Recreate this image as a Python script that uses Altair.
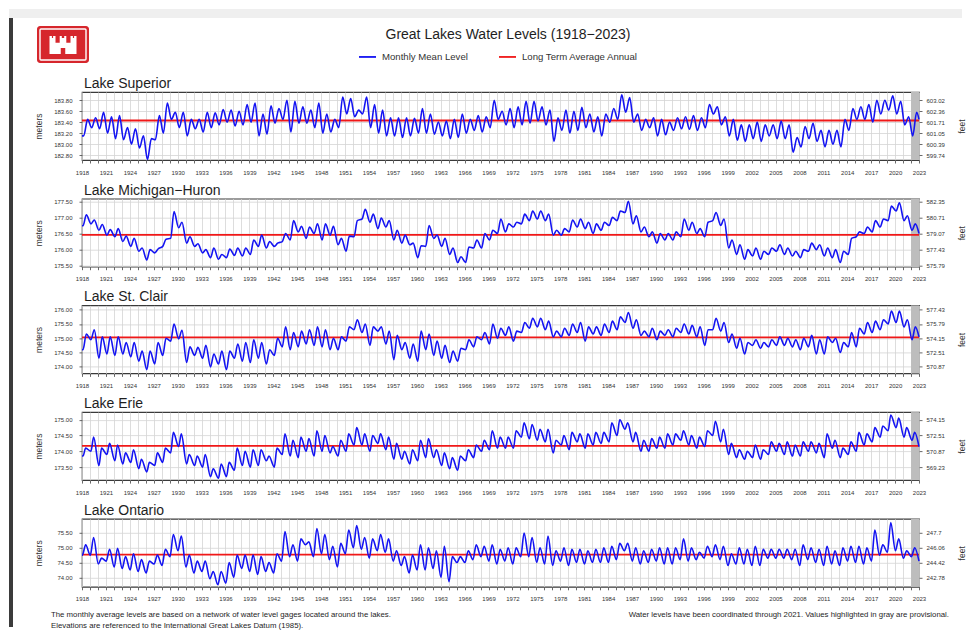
import altair as alt
import pandas as pd

FONT = "Liberation Sans"
TITLE = "Great Lakes Water Levels (1918\u22122023)"
LEGEND_LABELS = ["Monthly Mean Level", "Long Term Average Annual"]
LEGEND_COLORS = ["#1414f2", "#f01818"]
FOOTER_LEFT = [
    "The monthly average levels are based on a network of water level gages located around the lakes.",
    "Elevations are referenced to the International Great Lakes Datum (1985).",
]
FOOTER_RIGHT = "Water levels have been coordinated through 2021. Values highlighted in gray are provisional."

X_START, X_END = 1918, 2023
YEARS = list(range(1918, 2023))          # years with a winter low and a summer high
AXIS_YEARS = list(range(1918, 2024))     # yearly ticks / grid
PROVISIONAL = [2022, 2023]               # gray band
M_TO_FT = 3.28084

# ---------------- Lake Superior (meters) ----------------
SUP_LOW = [183.15, 183.30, 183.28, 183.20, 183.10, 183.08, 183.00, 182.93, 182.72, 183.08,
           183.20, 183.45, 183.30, 183.15, 183.28, 183.22, 183.30, 183.35, 183.40, 183.33,
           183.35, 183.40, 183.15, 183.18, 183.38, 183.45, 183.22, 183.38, 183.38, 183.30,
           183.20, 183.22, 183.30, 183.55, 183.50, 183.55, 183.30, 183.20, 183.15, 183.15,
           183.12, 183.15, 183.20, 183.20, 183.18, 183.15, 183.10, 183.12, 183.20, 183.25,
           183.22, 183.30, 183.45, 183.35, 183.30, 183.35, 183.38, 183.42, 183.35, 183.05,
           183.25, 183.20, 183.25, 183.30, 183.22, 183.15, 183.40, 183.45, 183.58, 183.40,
           183.25, 183.30, 183.15, 183.17, 183.25, 183.28, 183.27, 183.25, 183.30, 183.55,
           183.35, 183.15, 183.07, 183.05, 183.10, 183.05, 183.15, 183.10, 183.10, 182.85,
           182.95, 183.10, 183.05, 182.95, 183.00, 182.95, 183.25, 183.45, 183.45, 183.40,
           183.55, 183.62, 183.55, 183.35, 183.15]
SUP_HIGH = [183.45, 183.48, 183.58, 183.50, 183.52, 183.30, 183.28, 183.15, 183.10, 183.52,
            183.75, 183.58, 183.58, 183.45, 183.45, 183.58, 183.57, 183.63, 183.62, 183.60,
            183.72, 183.75, 183.55, 183.70, 183.65, 183.80, 183.78, 183.68, 183.62, 183.75,
            183.55, 183.45, 183.86, 183.83, 183.62, 183.86, 183.72, 183.62, 183.48, 183.48,
            183.48, 183.47, 183.65, 183.55, 183.40, 183.42, 183.45, 183.55, 183.45, 183.52,
            183.50, 183.80, 183.60, 183.65, 183.68, 183.78, 183.78, 183.68, 183.62, 183.48,
            183.62, 183.60, 183.67, 183.55, 183.50, 183.55, 183.65, 183.90, 183.85, 183.55,
            183.45, 183.48, 183.45, 183.40, 183.48, 183.50, 183.52, 183.48, 183.72, 183.68,
            183.50, 183.45, 183.35, 183.35, 183.40, 183.35, 183.35, 183.42, 183.35, 183.12,
            183.32, 183.38, 183.25, 183.25, 183.25, 183.45, 183.65, 183.68, 183.72, 183.80,
            183.80, 183.88, 183.78, 183.50, 183.58]
SUP_START, SUP_END = 183.15, 183.45

# ---------------- Lake Michigan-Huron ----------------
MH_LOW = [176.74, 176.80, 176.60, 176.45, 176.40, 176.25, 176.10, 175.95, 175.68, 175.90,
          176.10, 176.35, 176.68, 176.20, 176.10, 175.90, 175.75, 175.70, 175.75, 175.82,
          175.80, 175.85, 176.10, 176.05, 176.10, 176.25, 176.30, 176.55, 176.35, 176.50,
          176.30, 176.45, 176.15, 175.95, 176.40, 176.95, 176.85, 176.65, 176.70, 176.30,
          176.20, 176.15, 175.75, 176.10, 176.35, 176.10, 175.85, 175.60, 175.60, 176.05,
          176.05, 176.30, 176.50, 176.55, 176.70, 176.80, 176.90, 176.95, 176.90, 176.45,
          176.45, 176.55, 176.70, 176.65, 176.50, 176.60, 176.75, 176.90, 177.15, 176.80,
          176.55, 176.40, 176.20, 176.30, 176.30, 176.40, 176.60, 176.50, 176.40, 176.90,
          176.75, 176.05, 175.85, 175.70, 175.80, 175.70, 175.85, 175.95, 175.85, 175.80,
          175.75, 175.95, 176.00, 175.80, 175.75, 175.60, 175.85, 176.40, 176.50, 176.55,
          176.70, 176.90, 177.20, 176.90, 176.60]
MH_HIGH = [177.08, 176.92, 176.78, 176.62, 176.65, 176.42, 176.35, 176.05, 176.00, 176.02,
           176.32, 177.18, 176.85, 176.40, 176.18, 176.00, 176.05, 175.85, 176.02, 176.05,
           176.05, 176.30, 176.45, 176.25, 176.20, 176.50, 176.90, 176.72, 176.70, 176.80,
           176.80, 176.72, 176.35, 176.42, 176.90, 177.25, 177.10, 176.98, 176.90, 176.60,
           176.45, 176.20, 176.12, 176.75, 176.45, 176.35, 176.05, 175.78, 176.08, 176.30,
           176.50, 176.60, 176.95, 176.80, 176.85, 177.10, 177.20, 177.20, 177.10, 176.60,
           176.65, 176.92, 176.95, 176.85, 176.80, 176.85, 177.00, 177.20, 177.50, 177.05,
           176.70, 176.55, 176.50, 176.50, 176.55, 176.95, 176.85, 176.65, 176.85, 177.15,
           176.95, 176.30, 176.15, 176.00, 176.05, 175.95, 176.05, 176.15, 176.05, 175.95,
           176.00, 176.20, 176.15, 176.05, 176.00, 175.95, 176.35, 176.55, 176.70, 176.90,
           176.95, 177.35, 177.45, 177.05, 176.80]
MH_START, MH_END = 176.74, 176.50

# ---------------- Lake St. Clair ----------------
SC_LOW = [174.60, 174.95, 174.30, 174.45, 174.40, 174.45, 174.35, 174.20, 173.90, 174.10,
          174.40, 174.90, 174.98, 174.15, 174.40, 174.30, 174.00, 174.10, 173.90, 174.30,
          174.20, 174.15, 174.30, 174.10, 174.40, 174.70, 174.60, 174.70, 174.80, 174.75,
          174.70, 174.60, 174.60, 174.90, 175.30, 175.20, 174.75, 175.25, 174.80, 174.25,
          174.60, 174.30, 174.20, 174.60, 174.40, 174.30, 174.15, 174.20, 174.60, 174.70,
          174.95, 174.80, 175.00, 175.10, 174.90, 175.20, 175.35, 175.40, 175.30, 175.05,
          175.05, 175.10, 175.20, 174.90, 175.15, 175.10, 175.20, 175.30, 175.55, 175.35,
          175.10, 175.05, 174.95, 175.10, 175.05, 175.20, 175.15, 175.05, 174.75, 175.30,
          175.25, 174.85, 174.65, 174.45, 174.75, 174.65, 174.70, 174.75, 174.75, 174.70,
          174.60, 174.70, 174.45, 174.45, 174.85, 174.50, 174.70, 174.70, 175.15, 175.20,
          175.30, 175.50, 175.55, 175.40, 174.95]
SC_HIGH = [175.15, 175.30, 175.05, 175.05, 175.05, 174.85, 174.85, 174.55, 174.55, 174.85,
           175.00, 175.50, 175.28, 174.70, 174.68, 174.75, 174.45, 174.55, 174.55, 174.80,
           174.85, 174.95, 174.85, 174.60, 175.00, 175.40, 175.20, 175.25, 175.30, 175.40,
           175.30, 175.00, 175.05, 175.40, 175.65, 175.50, 175.40, 175.40, 175.25, 175.10,
           174.85, 174.80, 175.25, 175.15, 174.90, 174.75, 174.55, 174.65, 174.95, 175.05,
           175.20, 175.50, 175.35, 175.40, 175.25, 175.55, 175.70, 175.70, 175.60, 175.25,
           175.35, 175.50, 175.55, 175.40, 175.40, 175.50, 175.60, 175.75, 175.90, 175.65,
           175.25, 175.35, 175.25, 175.30, 175.35, 175.50, 175.45, 175.40, 175.30, 175.70,
           175.55, 175.15, 175.00, 174.85, 174.95, 174.85, 174.95, 175.05, 175.00, 174.95,
           175.00, 175.10, 174.95, 175.05, 175.00, 174.85, 175.20, 175.35, 175.55, 175.60,
           175.65, 175.95, 175.95, 175.65, 175.40]
SC_START, SC_END = 174.60, 175.05

# ---------------- Lake Erie ----------------
ER_LOW = [173.85, 174.00, 173.55, 173.90, 173.70, 173.60, 173.65, 173.45, 173.35, 173.55,
          173.65, 173.95, 174.15, 173.60, 173.55, 173.50, 173.20, 173.15, 173.20, 173.40,
          173.55, 173.50, 173.55, 173.70, 173.50, 173.90, 173.85, 173.80, 174.00, 173.85,
          174.00, 173.95, 173.85, 174.00, 174.20, 174.20, 174.00, 174.25, 174.05, 173.75,
          173.75, 173.60, 173.70, 173.80, 173.80, 173.55, 173.45, 173.40, 173.70, 173.80,
          174.00, 174.05, 174.10, 174.10, 174.10, 174.45, 174.40, 174.35, 174.30, 173.95,
          174.20, 174.05, 174.30, 174.10, 174.20, 174.25, 174.30, 174.50, 174.70, 174.30,
          174.00, 174.00, 174.10, 174.10, 174.20, 174.35, 174.20, 174.10, 174.15, 174.50,
          174.30, 173.90, 173.80, 173.75, 173.80, 173.75, 173.90, 174.00, 173.90, 173.85,
          173.85, 174.00, 173.95, 173.80, 174.10, 173.80, 173.90, 174.00, 174.20, 174.30,
          174.45, 174.65, 174.75, 174.45, 174.35]
ER_HIGH = [174.10, 174.45, 174.10, 174.25, 174.20, 173.95, 174.05, 173.75, 173.65, 173.95,
           174.10, 174.60, 174.55, 173.90, 173.85, 173.90, 173.45, 173.60, 173.65, 174.10,
           174.00, 174.05, 174.05, 173.85, 174.10, 174.55, 174.35, 174.45, 174.40, 174.65,
           174.50, 174.15, 174.35, 174.55, 174.75, 174.55, 174.50, 174.55, 174.45, 174.25,
           174.00, 174.05, 174.35, 174.40, 174.05, 173.95, 173.80, 173.85, 174.05, 174.20,
           174.35, 174.65, 174.45, 174.45, 174.65, 174.90, 174.85, 174.70, 174.70, 174.35,
           174.50, 174.60, 174.55, 174.55, 174.60, 174.60, 174.90, 175.00, 174.90, 174.60,
           174.35, 174.40, 174.45, 174.55, 174.55, 174.65, 174.50, 174.45, 174.65, 174.95,
           174.70, 174.25, 174.05, 174.00, 174.20, 174.05, 174.30, 174.25, 174.30, 174.20,
           174.30, 174.30, 174.25, 174.55, 174.35, 174.10, 174.30, 174.60, 174.55, 174.75,
           174.80, 175.15, 175.05, 174.75, 174.60]
ER_START, ER_END = 173.85, 174.15

# ---------------- Lake Ontario ----------------
ON_LOW = [74.75, 74.75, 74.45, 74.55, 74.35, 74.30, 74.25, 74.20, 74.15, 74.45,
          74.40, 74.70, 74.90, 74.35, 74.15, 74.20, 73.95, 73.75, 73.80, 74.00,
          74.30, 74.20, 74.10, 74.20, 74.15, 74.55, 74.70, 74.55, 75.10, 74.70,
          74.80, 74.60, 74.35, 74.80, 75.00, 74.95, 74.65, 74.90, 74.85, 74.55,
          74.40, 74.15, 74.25, 74.25, 74.30, 74.00, 73.85, 74.50, 74.50, 74.60,
          74.70, 74.55, 74.45, 74.55, 74.45, 74.70, 74.70, 74.50, 74.45, 74.40,
          74.55, 74.40, 74.50, 74.45, 74.50, 74.50, 74.50, 74.60, 74.90, 74.55,
          74.45, 74.50, 74.55, 74.45, 74.45, 74.60, 74.55, 74.60, 74.65, 74.70,
          74.60, 74.40, 74.45, 74.45, 74.40, 74.40, 74.65, 74.65, 74.65, 74.60,
          74.40, 74.60, 74.50, 74.40, 74.45, 74.40, 74.55, 74.50, 74.45, 74.55,
          74.75, 74.85, 74.90, 74.65, 74.70]
ON_HIGH = [75.10, 75.35, 74.65, 74.95, 74.98, 74.70, 74.80, 74.60, 74.55, 74.75,
           74.95, 75.45, 75.40, 74.75, 74.55, 74.55, 74.20, 74.20, 74.50, 74.75,
           74.75, 74.75, 74.70, 74.50, 74.80, 75.55, 75.10, 75.30, 75.20, 75.65,
           75.45, 75.05, 75.15, 75.60, 75.75, 75.35, 75.30, 75.45, 75.30, 74.90,
           74.70, 74.75, 75.10, 75.00, 74.90, 75.05, 74.70, 74.70, 74.90, 75.10,
           75.05, 75.10, 74.95, 75.00, 75.00, 75.50, 75.35, 75.00, 75.40, 74.90,
           75.00, 74.95, 74.95, 74.90, 74.95, 75.00, 75.05, 75.15, 75.15, 75.00,
           74.90, 74.95, 75.00, 75.00, 75.00, 75.30, 75.00, 74.85, 75.05, 75.10,
           75.05, 74.80, 75.00, 74.95, 75.05, 74.95, 74.95, 74.95, 74.95, 74.95,
           75.10, 75.00, 74.95, 75.05, 74.90, 75.00, 75.05, 75.05, 75.00, 75.60,
           75.10, 75.85, 75.30, 74.90, 75.00]
ON_START, ON_END = 74.75, 74.55

LAKES = [
    # name, lows, highs, start, end, low month, high month, long-term avg, y-domain, y ticks (m)
    ("Lake Superior", SUP_LOW, SUP_HIGH, SUP_START, SUP_END, 3, 9, 183.43,
     [182.71, 183.95], [182.8, 183.0, 183.2, 183.4, 183.6, 183.8]),
    ("Lake Michigan\u2212Huron", MH_LOW, MH_HIGH, MH_START, MH_END, 2, 7, 176.46,
     [175.47, 177.58], [175.5, 176.0, 176.5, 177.0, 177.5]),
    ("Lake St. Clair", SC_LOW, SC_HIGH, SC_START, SC_END, 2, 7, 175.03,
     [173.77, 176.15], [174.0, 174.5, 175.0, 175.5, 176.0]),
    ("Lake Erie", ER_LOW, ER_HIGH, ER_START, ER_END, 2, 6, 174.17,
     [173.09, 175.24], [173.5, 174.0, 174.5, 175.0]),
    ("Lake Ontario", ON_LOW, ON_HIGH, ON_START, ON_END, 1, 6, 74.77,
     [73.68, 75.98], [74.0, 74.5, 75.0, 75.5]),
]

for lk in LAKES:
    assert len(lk[1]) == len(YEARS) and len(lk[2]) == len(YEARS), lk[0]

CASTLE = ("M-0.9,0.6 L-0.9,-0.6 L-0.74,-0.6 L-0.74,-0.46 L-0.66,-0.46 L-0.66,-0.6 L-0.5,-0.6 "
          "L-0.5,-0.15 L-0.22,-0.15 L-0.22,-0.6 L-0.08,-0.6 L-0.08,-0.46 L0.08,-0.46 L0.08,-0.6 "
          "L0.22,-0.6 L0.22,-0.15 L0.5,-0.15 L0.5,-0.6 L0.66,-0.6 L0.66,-0.46 L0.74,-0.46 L0.74,-0.6 "
          "L0.9,-0.6 L0.9,0.6 L0.15,0.6 L0.15,0.2 L-0.15,0.2 L-0.15,0.6 Z "
          "M-0.78,-0.25 L-0.62,-0.25 L-0.62,0.0 L-0.78,0.0 Z "
          "M0.62,-0.25 L0.78,-0.25 L0.78,0.0 L0.62,0.0 Z")

W, H, SPACING = 837, 68, 38.7
GRID = "#d4d4d4"
BAND = "#bdbdbd"
ONE = pd.DataFrame({"k": [0]})


def lake_frame(lows, highs, start, end, low_m, high_m):
    t, v = [float(X_START)], [start]
    for y, lo, hi in zip(YEARS, lows, highs):
        t += [y + (low_m - 0.5) / 12, y + (high_m - 0.5) / 12]
        v += [lo, hi]
    t.append(float(X_END))
    v.append(end)
    return pd.DataFrame({"t": t, "level": v, "series": LEGEND_LABELS[0]})


def deco_text(text, x, y, size, align="left", baseline="alphabetic", color="#1e1e1e"):
    return alt.Chart(ONE).mark_text(
        text=text, align=align, baseline=baseline, fontSize=size, font=FONT, color=color
    ).encode(x=alt.value(x), y=alt.value(y))


def deco_rect(x, x2, y, y2, color, **kw):
    return alt.Chart(ONE).mark_rect(color=color, **kw).encode(
        x=alt.value(x), x2=alt.value(x2), y=alt.value(y), y2=alt.value(y2))


def panel(idx, lake):
    name, lows, highs, start, end, low_m, high_m, avg, ydom, yticks = lake
    first, last = idx == 0, idx == len(LAKES) - 1
    df = lake_frame(lows, highs, start, end, low_m, high_m)

    xs = alt.Scale(domain=[X_START, X_END], nice=False, zero=False)
    ys = alt.Scale(domain=ydom, nice=False, zero=False)
    cs = alt.Scale(domain=LEGEND_LABELS, range=LEGEND_COLORS)

    xaxis = alt.Axis(values=AXIS_YEARS, format="d",
                     labelExpr="(datum.value - 1918) % 3 == 0 ? datum.label : ''",
                     grid=True, gridColor=GRID, gridWidth=0.8,
                     tickSize=3, tickColor="#444", tickWidth=0.8,
                     labelFontSize=6, labelFont=FONT, labelColor="#333", labelPadding=6,
                     labelOverlap=False, labelFlush=False, domain=False, title=None)
    left_axis = alt.Axis(values=yticks, format=".2f", orient="left",
                         grid=True, gridColor=GRID, gridWidth=0.8,
                         tickSize=3, tickColor="#444", tickWidth=0.8,
                         labelFontSize=6, labelFont=FONT, labelColor="#333", labelPadding=7,
                         domain=False, title="meters", titleFont=FONT, titleFontSize=8.5,
                         titleFontWeight="normal", titleColor="#333", titleAngle=270,
                         titleX=-44, titleY=H / 2, titleAlign="center", titleBaseline="middle")
    right_axis = alt.Axis(values=yticks, orient="right",
                          labelExpr=f"format(datum.value * {M_TO_FT}, '.2~f')",
                          grid=False, tickSize=3, tickColor="#444", tickWidth=0.8,
                          labelFontSize=6, labelFont=FONT, labelColor="#333", labelPadding=4,
                          domain=False, title="feet", titleFont=FONT, titleFontSize=8.5,
                          titleFontWeight="normal", titleColor="#333", titleAngle=270,
                          titleX=42, titleY=H / 2, titleAlign="center", titleBaseline="middle")

    legend = None
    if first:
        legend = alt.Legend(orient="none", legendX=276, legendY=-45, direction="horizontal",
                            title=None, symbolType="stroke", symbolSize=289, symbolStrokeWidth=1.8,
                            labelFont=FONT, labelFontSize=9.6, labelColor="#333", labelOffset=5,
                            columnPadding=27, padding=0)

    band = alt.Chart(pd.DataFrame({"x0": [PROVISIONAL[0]], "x1": [PROVISIONAL[1]]})).mark_rect(
        color=BAND, opacity=1).encode(
        x=alt.X("x0:Q", scale=xs, axis=xaxis), x2="x1:Q",
        y=alt.value(0), y2=alt.value("height"))

    rule = alt.Chart(pd.DataFrame({"avg": [avg], "series": [LEGEND_LABELS[1]]})).mark_rule(
        strokeWidth=1.8).encode(
        y=alt.Y("avg:Q", scale=ys, axis=right_axis),
        color=alt.Color("series:N", scale=cs, legend=legend))

    line = alt.Chart(df).mark_line(strokeWidth=1.6, interpolate="monotone").encode(
        x=alt.X("t:Q", scale=xs, axis=xaxis),
        y=alt.Y("level:Q", scale=ys, axis=left_axis),
        color=alt.Color("series:N", scale=cs, legend=legend))

    layers = [band, rule, line, deco_text(name, 2, -4, 14)]

    if first:
        layers += [
            deco_rect(-73, 880, -83, -74, "#efefef"),
            deco_rect(-73, -69, -74, 535, "#3b3b3b"),
            deco_rect(-45, 7, -66, -29, "#d6262c", cornerRadius=3),
            deco_rect(-42, 4, -63, -32, "white", filled=False, strokeWidth=1.4, cornerRadius=1),
            alt.Chart(ONE).mark_point(shape=CASTLE, filled=True, color="white", opacity=1,
                                      size=900, strokeWidth=0).encode(
                x=alt.value(-19), y=alt.value(-47)),
            deco_text(TITLE, 426, -57, 14, align="center", baseline="middle"),
        ]
    if last:
        layers += [
            deco_text(FOOTER_LEFT[0], -31, 96, 7.8, baseline="middle"),
            deco_text(FOOTER_LEFT[1], -31, 107, 7.8, baseline="middle"),
            deco_text(FOOTER_RIGHT, 867, 96, 7.8, align="right", baseline="middle"),
        ]

    return alt.layer(*layers).resolve_axis(y="independent").properties(width=W, height=H)


panels = [panel(i, lk) for i, lk in enumerate(LAKES)]

chart = alt.vconcat(*panels, spacing=SPACING, bounds="flush").resolve_scale(
    color="independent", x="independent", y="independent"
).properties(padding=0, background="white").configure_view(
    stroke="#3a3a3a", strokeWidth=1.2
)

chart.save("out.html", embed_options={"renderer": "svg", "actions": False})
